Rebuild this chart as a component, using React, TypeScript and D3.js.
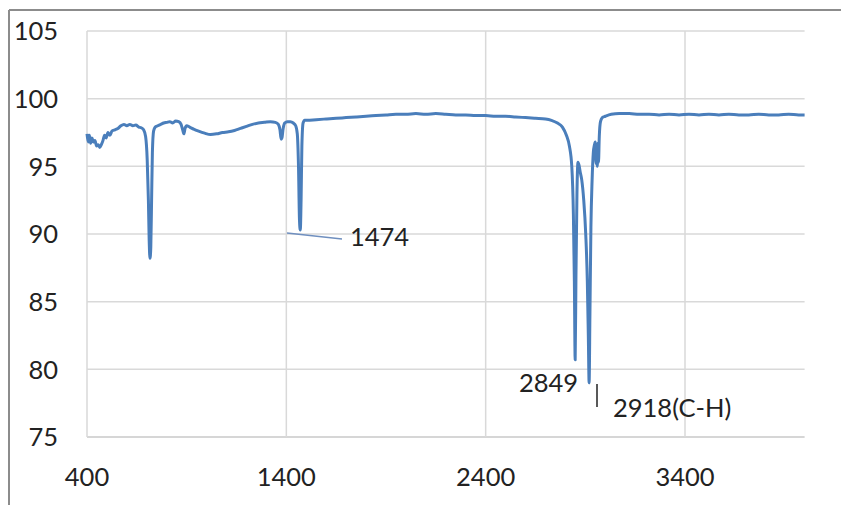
import React from "react";
import * as d3 from "d3";

const wavenumbers = [
  400, 406, 412, 418, 425, 432, 440, 448, 456, 464, 472, 480, 488, 496, 505, 515, 525, 540, 555, 570,
  585, 600, 615, 630, 645, 660, 672, 684, 694, 702, 708, 712, 716, 720, 724, 728, 734, 742, 755, 770,
  785, 800, 815, 830, 845, 860, 872, 880, 886, 892, 900, 915, 935, 960, 990, 1020, 1050, 1080, 1110,
  1140, 1170, 1200, 1230, 1260, 1290, 1320, 1345, 1360, 1368, 1374, 1378, 1384, 1392, 1405, 1420, 1435,
  1447, 1455, 1461, 1466, 1470, 1474, 1478, 1484, 1492, 1505, 1550, 1600, 1650, 1700, 1750, 1800, 1850,
  1900, 1950, 2000, 2050, 2100, 2150, 2200, 2250, 2300, 2350, 2400, 2450, 2500, 2550, 2600, 2650, 2700,
  2730, 2760, 2785, 2805, 2820, 2832, 2840, 2845, 2849, 2853, 2858, 2863, 2868, 2874, 2882, 2892, 2902,
  2910, 2915, 2919, 2923, 2928, 2934, 2940, 2946, 2950, 2954, 2957, 2960, 2963, 2966, 2970, 2976, 2985,
  3000, 3030, 3070, 3120, 3170, 3220, 3270, 3320, 3370, 3420, 3470, 3520, 3570, 3620, 3670, 3720, 3770,
  3820, 3870, 3920, 3970, 4000,
];

const transmittance = [
  97.4, 96.8, 97.3, 96.7, 97.1, 96.8, 96.9, 96.5, 96.6, 96.4, 96.6, 96.9, 97.3, 97.1, 97.5, 97.3, 97.6, 97.7, 97.8, 98.0,
  98.1, 98.0, 98.1, 98.0, 98.05, 97.9, 97.85, 97.7, 97.2, 95.5, 92.5, 89.5, 88.2, 89.0, 92.5, 96.0, 97.6, 97.9, 98.0, 98.1,
  98.2, 98.25, 98.3, 98.2, 98.35, 98.3, 98.1, 97.7, 97.4, 97.8, 98.0, 97.9, 97.75, 97.6, 97.45, 97.35, 97.4, 97.5, 97.55,
  97.65, 97.8, 97.95, 98.1, 98.2, 98.25, 98.3, 98.25, 98.1, 97.7, 97.0, 97.1, 97.8, 98.2, 98.3, 98.3, 98.2,
  98.0, 97.4, 95.0, 91.0, 90.3, 92.5, 96.5, 98.2, 98.4, 98.4, 98.45, 98.5, 98.55, 98.6, 98.65, 98.7, 98.75,
  98.8, 98.85, 98.85, 98.9, 98.85, 98.9, 98.85, 98.8, 98.8, 98.75, 98.75, 98.7, 98.7, 98.65, 98.6, 98.55, 98.5,
  98.4, 98.2, 97.9, 97.3, 96.5, 95.0, 91.5, 86.5, 80.7, 87.0, 93.0, 95.3, 95.1, 94.6, 94.0, 92.5, 90.0,
  86.5, 82.5, 79.0, 84.0, 90.5, 94.0, 96.0, 96.6, 96.8, 95.2, 96.6, 95.0, 96.7, 95.3, 97.2, 98.3, 98.6,
  98.7, 98.85, 98.9, 98.9, 98.85, 98.85, 98.8, 98.85, 98.8, 98.85, 98.8, 98.85, 98.8, 98.85, 98.8, 98.8, 98.85,
  98.8, 98.8, 98.85, 98.8, 98.8,
];

const xTicks = [400, 1400, 2400, 3400];
const yTicks = [75, 80, 85, 90, 95, 100, 105];

const annotations = [
  { text: "1474", x: 350, y: 246 },
  { text: "2849", x: 519, y: 392 },
  { text: "2918(C-H)", x: 613, y: 417 },
];

export default function App() {
  const W = 841;
  const H = 505;
  const x = d3.scaleLinear().domain([400, 4000]).range([87, 804.6]);
  const y = d3.scaleLinear().domain([75, 105]).range([437, 31]);
  const pts = wavenumbers.map((w, i) => [w, transmittance[i]] as [number, number]);
  const line = d3
    .line<[number, number]>()
    .x((d) => x(d[0]))
    .y((d) => y(d[1]))
    .curve(d3.curveMonotoneX);
  const font = "Lato, 'Open Sans', sans-serif";
  return (
    <svg
      width={W}
      height={H}
      style={{ position: "absolute", left: 0, top: 0, background: "#fff" }}
    >
      <rect x={0} y={0} width={W} height={H} fill="#fff" />
      <line x1={9} y1={10} x2={W} y2={10} stroke="#8c8c8c" strokeWidth={2} />
      <line x1={9} y1={10} x2={9} y2={H} stroke="#8c8c8c" strokeWidth={2} />
      {yTicks.map((t) => (
        <line
          key={"h" + t}
          x1={x(400)}
          x2={x(4000)}
          y1={y(t)}
          y2={y(t)}
          stroke={t === 75 ? "#c8c8c8" : "#d9d9d9"}
          strokeWidth={1.5}
        />
      ))}
      {xTicks.map((t) => (
        <line
          key={"v" + t}
          x1={x(t)}
          x2={x(t)}
          y1={y(105)}
          y2={y(75)}
          stroke="#d9d9d9"
          strokeWidth={1.5}
        />
      ))}
      {yTicks.map((t) => (
        <text
          key={"yl" + t}
          x={58}
          y={y(t)}
          dy="0.36em"
          textAnchor="end"
          fontFamily={font}
          fontSize={25.5}
          fill="#222"
        >
          {t}
        </text>
      ))}
      {xTicks.map((t) => (
        <text
          key={"xl" + t}
          x={x(t)}
          y={477}
          dy="0.36em"
          textAnchor="middle"
          fontFamily={font}
          fontSize={25.5}
          fill="#222"
        >
          {t}
        </text>
      ))}
      <path
        d={line(pts) || ""}
        fill="none"
        stroke="#4A7EBB"
        strokeWidth={3}
        strokeLinejoin="round"
      />
      <line x1={287} y1={233} x2={342} y2={239} stroke="#6f8fbf" strokeWidth={1.5} />
      <line x1={597} y1={384} x2={597} y2={407} stroke="#222" strokeWidth={1.5} />
      {annotations.map((a) => (
        <text
          key={a.text}
          x={a.x}
          y={a.y}
          fontFamily={font}
          fontSize={25.5}
          fill="#222"
        >
          {a.text}
        </text>
      ))}
    </svg>
  );
}
